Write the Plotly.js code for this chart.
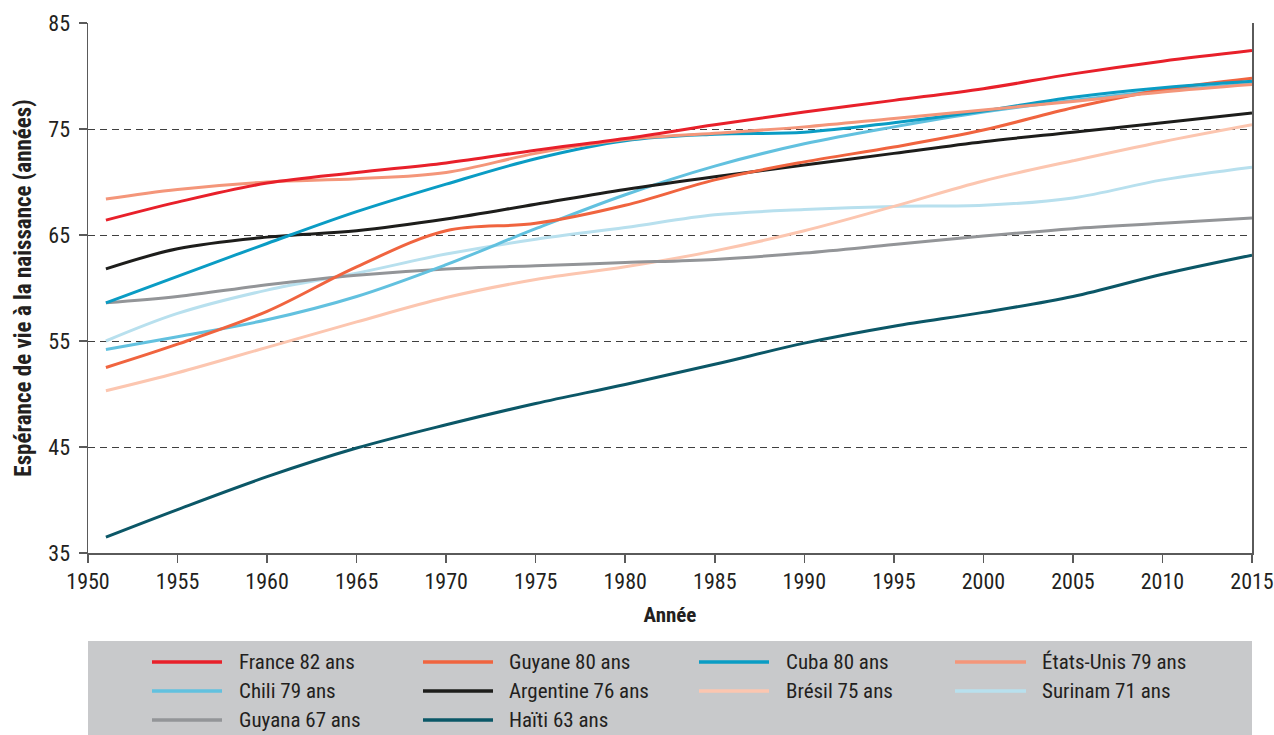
<!DOCTYPE html>
<html>
<head>
<meta charset="utf-8">
<script src="https://cdn.plot.ly/plotly-3.0.1.min.js"></script>
<style>
html,body{margin:0;padding:0;background:#fff;}
#chart{width:1274px;height:735px;}
</style>
</head>
<body>
<div id="chart"></div>
<script>
// ---- Data ----
var years = [1951, 1955, 1960, 1965, 1970, 1975, 1980, 1985, 1990, 1995, 2000, 2005, 2010, 2015];

var france     = [66.4, 68.1, 69.9, 70.9, 71.8, 73.0, 74.1, 75.4, 76.6, 77.7, 78.8, 80.2, 81.4, 82.4];
var guyane     = [52.5, 54.7, 57.8, 62.0, 65.4, 66.1, 67.8, 70.2, 71.9, 73.3, 74.9, 77.0, 78.7, 79.8];
var cuba       = [58.6, 61.1, 64.2, 67.2, 69.8, 72.2, 73.9, 74.5, 74.7, 75.6, 76.7, 78.0, 78.9, 79.5];
var etatsUnis  = [68.4, 69.3, 70.0, 70.3, 70.9, 72.7, 74.0, 74.6, 75.2, 76.0, 76.8, 77.6, 78.5, 79.2];
var chili      = [54.2, 55.4, 57.0, 59.2, 62.2, 65.6, 68.8, 71.5, 73.6, 75.2, 76.6, 77.7, 78.6, 79.3];
var argentine  = [61.8, 63.7, 64.8, 65.4, 66.5, 67.9, 69.3, 70.5, 71.6, 72.7, 73.8, 74.7, 75.6, 76.5];
var bresil     = [50.3, 52.0, 54.4, 56.8, 59.1, 60.8, 62.0, 63.5, 65.4, 67.7, 70.1, 72.0, 73.8, 75.4];
var surinam    = [55.0, 57.6, 59.8, 61.4, 63.2, 64.6, 65.7, 66.9, 67.4, 67.7, 67.8, 68.5, 70.2, 71.4];
var guyana     = [58.6, 59.2, 60.3, 61.2, 61.8, 62.1, 62.4, 62.7, 63.3, 64.1, 64.9, 65.6, 66.1, 66.6];
var haiti      = [36.5, 39.1, 42.2, 44.9, 47.1, 49.1, 50.9, 52.8, 54.8, 56.4, 57.7, 59.2, 61.3, 63.1];

var names  = ["France 82 ans", "Guyane 80 ans", "Cuba 80 ans", "États-Unis 79 ans",
              "Chili 79 ans", "Argentine 76 ans", "Brésil 75 ans", "Surinam 71 ans",
              "Guyana 67 ans", "Haïti 63 ans"];
var series = [france, guyane, cuba, etatsUnis, chili, argentine, bresil, surinam, guyana, haiti];
var colors = ["#e8202a", "#f0643f", "#0a9cc4", "#f4967a", "#62c1df", "#1d1d1b",
              "#fcc6b0", "#b8e0ee", "#939598", "#0b5767"];

var xTickVals = [1950,1955,1960,1965,1970,1975,1980,1985,1990,1995,2000,2005,2010,2015];
var yTickVals = [35,45,55,65,75,85];

// drawing order (back to front)
var drawOrder = [7, 6, 8, 9, 4, 5, 1, 2, 3, 0];

var FONT = "'Liberation Sans Narrow', 'Arial Narrow', 'Roboto Condensed', 'Liberation Sans', sans-serif";
var TXT = "#231f20";

var traces = drawOrder.map(function(i){
  return {
    x: years, y: series[i], name: names[i], type: "scatter", mode: "lines",
    line: {color: colors[i], width: 3, shape: "spline", smoothing: 1},
    showlegend: false, hoverinfo: "x+y+name"
  };
});

// plot area in pixels
var L = 88, R = 1252, T = 23, B = 553;
function px(x){ return (x - L) / (R - L); }
function py(y){ return (B - y) / (B - T); }

var shapes = [{
  type: "rect", xref: "paper", yref: "paper",
  x0: px(88), x1: px(1252), y0: py(641), y1: py(740),
  fillcolor: "#c8c9cb", line: {width: 0}, layer: "below"
}];
var annotations = [];

var colLine = [[152, 222], [423, 493], [699, 769], [955, 1026]];
var colText = [237, 507, 784, 1040];
var rowY = [662, 691, 720];

names.forEach(function(n, k){
  var r = Math.floor(k / 4), c = k % 4;
  shapes.push({
    type: "line", xref: "paper", yref: "paper",
    x0: px(colLine[c][0]), x1: px(colLine[c][1]),
    y0: py(rowY[r]), y1: py(rowY[r]),
    line: {color: colors[k], width: 3.5}
  });
  annotations.push({
    xref: "paper", yref: "paper", x: px(colText[c]), y: py(rowY[r]),
    xanchor: "left", yanchor: "middle", showarrow: false, text: n,
    font: {family: FONT, size: 21, color: TXT}
  });
});

var layout = {
  width: 1274, height: 735,
  margin: {l: L, r: 1274 - R, t: T, b: 735 - B},
  paper_bgcolor: "#ffffff", plot_bgcolor: "#ffffff",
  font: {family: FONT, color: TXT, size: 21},
  showlegend: false,
  xaxis: {
    range: [1950, 2015], tickvals: xTickVals, ticktext: xTickVals.map(String),
    showgrid: false, zeroline: false,
    showline: true, linecolor: "#5a5a5a", linewidth: 1.5, mirror: false,
    ticks: "outside", ticklen: 8, tickcolor: "#5a5a5a", tickwidth: 1.5,
    tickfont: {family: FONT, size: 22, color: TXT},
    title: {text: "<b>Année</b>", font: {family: FONT, size: 21, color: TXT}, standoff: 14}
  },
  yaxis: {
    range: [35, 85], tickvals: yTickVals, ticktext: yTickVals.map(String),
    showgrid: true, gridcolor: "#3f3f3f", gridwidth: 1, griddash: "7px,5px",
    zeroline: false,
    showline: true, linecolor: "#5a5a5a", linewidth: 1.5, mirror: true,
    ticks: "outside", ticklen: 8, tickcolor: "#5a5a5a", tickwidth: 1.5,
    ticklabelstandoff: 4,
    tickfont: {family: FONT, size: 22, color: TXT},
    title: {text: "<b>Espérance de vie à la naissance (années)</b>", font: {family: FONT, size: 23, color: TXT}, standoff: 10}
  },
  shapes: shapes,
  annotations: annotations
};

Plotly.newPlot("chart", traces, layout, {displayModeBar: false, staticPlot: true});
</script>
</body>
</html>
